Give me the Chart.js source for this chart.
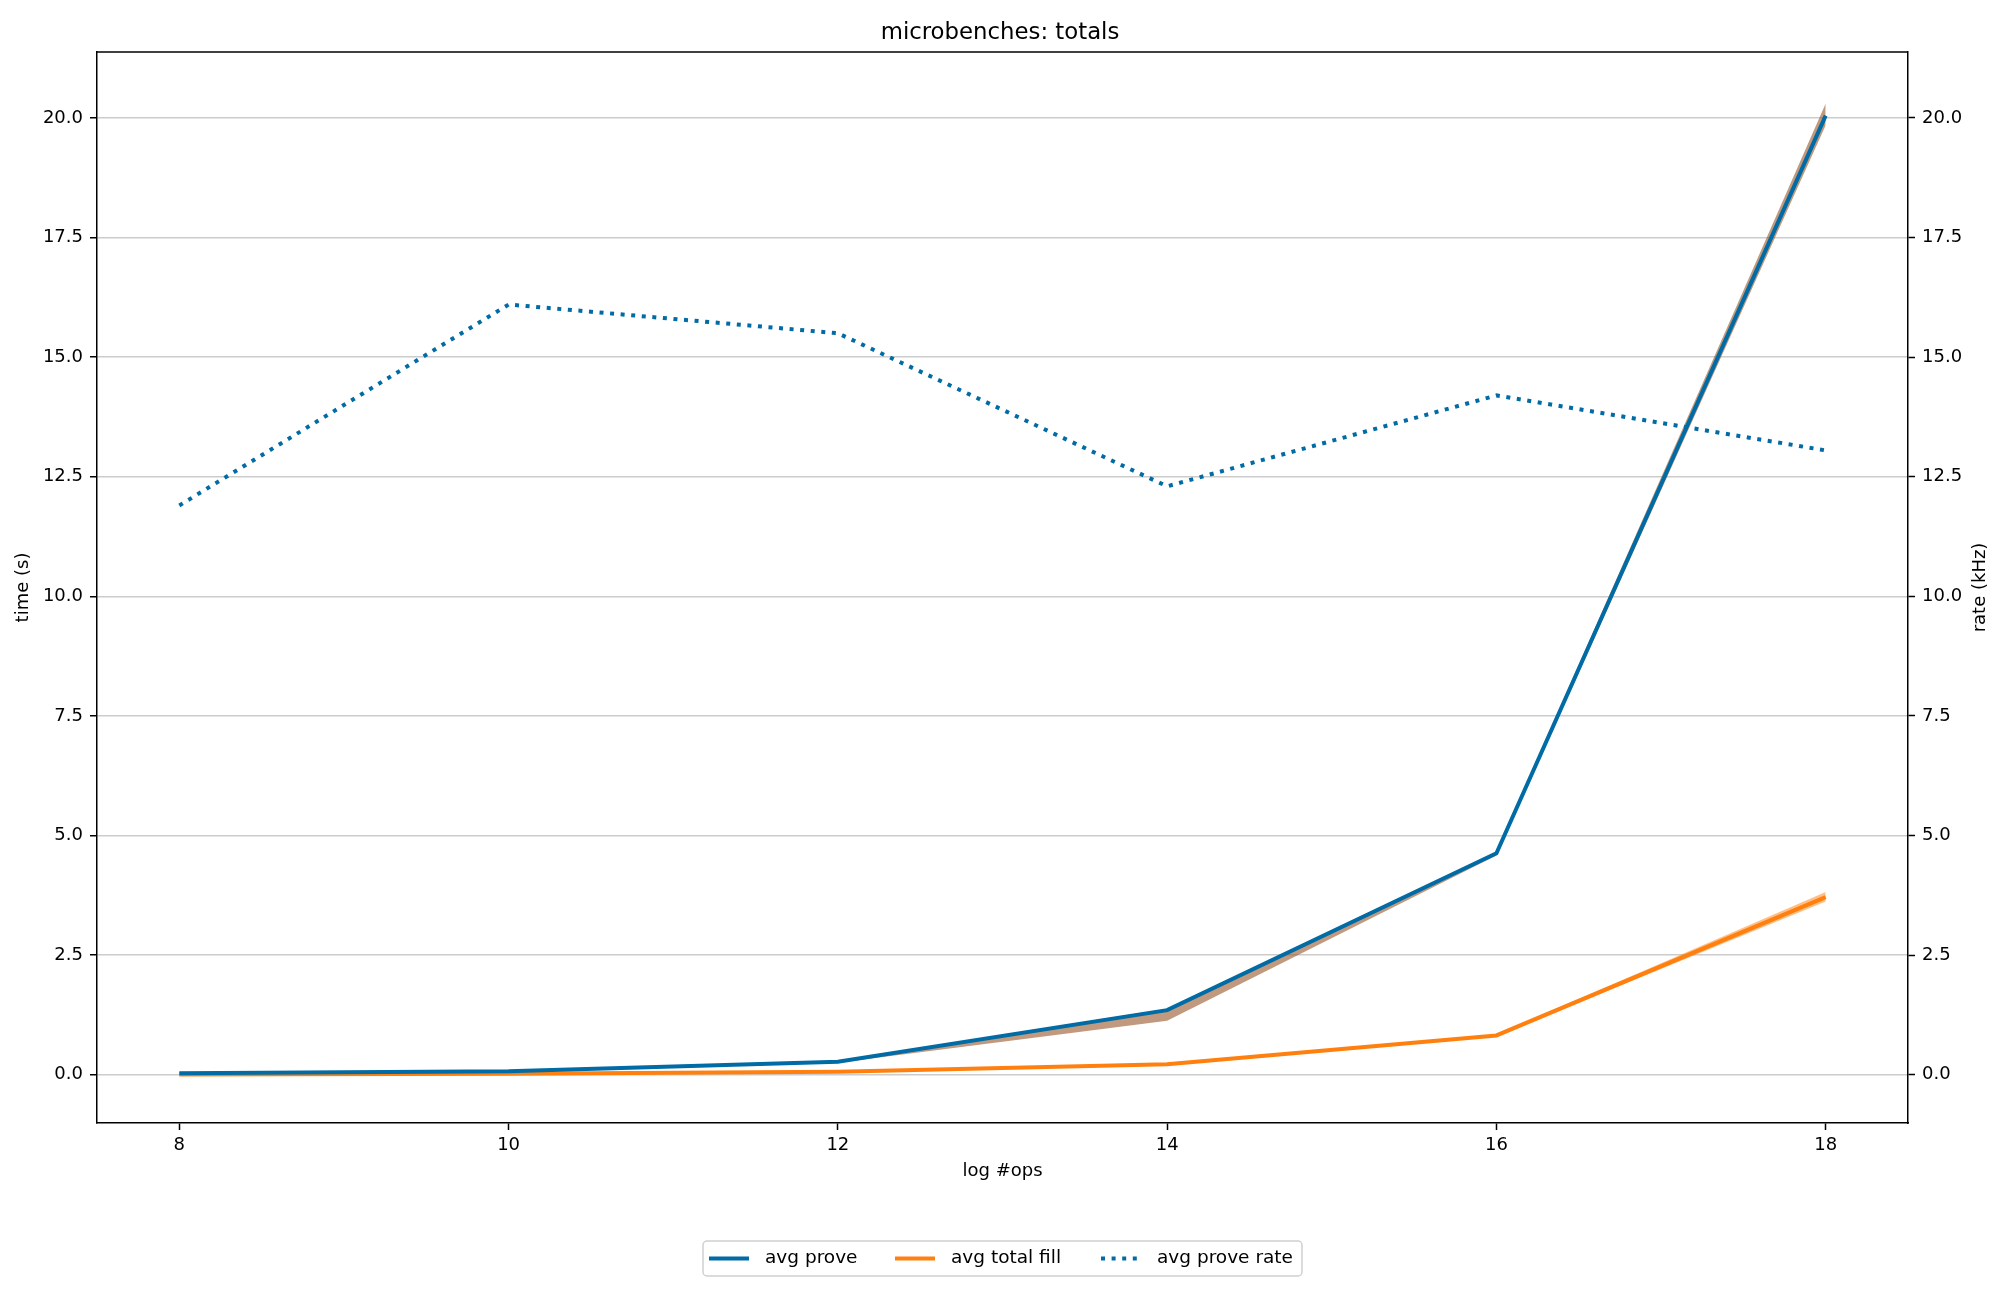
<!DOCTYPE html>
<html>
<head>
<meta charset="utf-8">
<script src="https://cdn.jsdelivr.net/npm/chart.js@4"></script>
<style>
  body { margin: 0; background: #fff; }
  #wrap { width: 2000px; height: 1296px; }
</style>
</head>
<body>
<div id="wrap"><canvas id="myChart" width="2000" height="1296"></canvas></div>
<script>
// data
const logOps = [8, 10, 12, 14, 16, 18];
const proveAvg = [0.03, 0.07, 0.27, 1.35, 4.63, 20.05];
const proveLow = [0.02, 0.06, 0.25, 1.13, 4.58, 19.85];
const proveHigh = [0.04, 0.08, 0.29, 1.38, 4.66, 20.3];
const fillAvg = [0.005, 0.02, 0.06, 0.22, 0.82, 3.71];
const fillLow = [0.0, 0.01, 0.05, 0.2, 0.8, 3.62];
const fillHigh = [0.01, 0.03, 0.07, 0.24, 0.84, 3.82];
const proveRate = [11.9, 16.1, 15.5, 12.3, 14.2, 13.05];
const xTicks = [8, 10, 12, 14, 16, 18];
const yTicks = [0, 2.5, 5, 7.5, 10, 12.5, 15, 17.5, 20];

const BLUE = '#006BA4';
const ORANGE = '#FF800E';

Chart.defaults.font.family = "'DejaVu Sans', sans-serif";
Chart.defaults.font.size = 18;
Chart.defaults.color = '#000';

function pts(ys) {
    return logOps.map((x, i) => ({x: x, y: ys[i]}));
}

// frame on top, right axis title (reads upward like matplotlib) + legend box
const extras = {
    id: 'extras',
    afterDraw(chart) {
        const ctx = chart.ctx;
        const a = chart.chartArea;
        ctx.save();
        ctx.strokeStyle = '#000';
        ctx.lineWidth = 1.5;
        ctx.beginPath();
        ctx.moveTo(a.left, a.top);
        ctx.lineTo(a.right, a.top);
        ctx.stroke();

        ctx.save();
        ctx.translate(1980, (a.top + a.bottom) / 2);
        ctx.rotate(-Math.PI / 2);
        ctx.font = "18px 'DejaVu Sans'";
        ctx.fillStyle = '#000';
        ctx.textAlign = 'center';
        ctx.textBaseline = 'middle';
        ctx.fillText('rate (kHz)', 0, 0);
        ctx.restore();

        // legend
        const items = chart.data.datasets.filter(d => d.inLegend);
        const boxL = 703, boxR = 1302, boxT = 1241, boxB = 1276;
        ctx.fillStyle = 'rgba(255,255,255,0.8)';
        ctx.strokeStyle = '#d0d0d0';
        ctx.lineWidth = 1.5;
        ctx.beginPath();
        ctx.roundRect(boxL, boxT, boxR - boxL, boxB - boxT, 4);
        ctx.fill();
        ctx.stroke();
        const cy = (boxT + boxB) / 2;
        const starts = [709, 895, 1101];
        ctx.font = "18.5px 'DejaVu Sans'";
        ctx.textBaseline = 'middle';
        items.forEach((d, i) => {
            const x0 = starts[i];
            ctx.strokeStyle = d.borderColor;
            ctx.lineWidth = d.borderWidth;
            ctx.setLineDash(d.borderDash || []);
            ctx.beginPath();
            ctx.moveTo(x0, cy);
            ctx.lineTo(x0 + 40, cy);
            ctx.stroke();
            ctx.setLineDash([]);
            ctx.fillStyle = '#000';
            ctx.fillText(d.label, x0 + 56, cy);
        });
        ctx.restore();
    }
};

const config = {
    type: 'line',
    data: {
        datasets: [
            {label: 'prove low', data: pts(proveLow), borderWidth: 0, pointRadius: 0,
             fill: false, order: 10, backgroundColor: 'rgba(150,85,40,0.6)'},
            {label: 'prove high', data: pts(proveHigh), borderWidth: 0, pointRadius: 0,
             fill: '-1', order: 10, backgroundColor: 'rgba(150,85,40,0.6)'},
            {label: 'fill low', data: pts(fillLow), borderWidth: 0, pointRadius: 0,
             fill: false, order: 10, backgroundColor: 'rgba(255,128,14,0.5)'},
            {label: 'fill high', data: pts(fillHigh), borderWidth: 0, pointRadius: 0,
             fill: '-1', order: 10, backgroundColor: 'rgba(255,128,14,0.5)'},
            {label: 'avg prove', inLegend: true, data: pts(proveAvg), borderColor: BLUE,
             borderWidth: 4, pointRadius: 0, order: 1, yAxisID: 'y'},
            {label: 'avg total fill', inLegend: true, data: pts(fillAvg), borderColor: ORANGE,
             borderWidth: 4, pointRadius: 0, order: 2, yAxisID: 'y'},
            {label: 'avg prove rate', inLegend: true, data: pts(proveRate), borderColor: BLUE,
             borderWidth: 4, borderDash: [4, 6.6], borderCapStyle: 'butt', pointRadius: 0,
             order: 0, yAxisID: 'y1'}
        ]
    },
    options: {
        responsive: false,
        animation: false,
        devicePixelRatio: 1,
        layout: {padding: {top: 0, bottom: 103, left: 0, right: 0}},
        plugins: {
            legend: {display: false},
            tooltip: {enabled: false},
            title: {
                display: true,
                text: 'microbenches: totals',
                font: {size: 22.8, weight: 'normal'},
                color: '#000',
                padding: {top: 19, bottom: 5.6}
            }
        },
        scales: {
            x: {
                type: 'linear',
                min: 7.5,
                max: 18.5,
                afterBuildTicks: s => { s.ticks = xTicks.map(v => ({value: v})); },
                afterFit: s => { s.height = 70; },
                ticks: {padding: 5, color: '#000'},
                grid: {drawOnChartArea: false, drawTicks: true, tickLength: 7,
                       tickColor: '#000', tickWidth: 1.5},
                border: {color: '#000', width: 1.5},
                title: {display: true, text: 'log #ops', color: '#000',
                        padding: {top: 0, bottom: 11}}
            },
            y: {
                position: 'left',
                min: -1.01,
                max: 21.38,
                afterBuildTicks: s => { s.ticks = yTicks.map(v => ({value: v})); },
                afterFit: s => { s.width = 97; },
                ticks: {padding: 7, color: '#000', callback: v => v.toFixed(1)},
                grid: {color: '#cccccc', lineWidth: 1.5, drawTicks: true, tickLength: 7,
                       tickColor: '#000', tickWidth: 1.5},
                border: {color: '#000', width: 1.5},
                title: {display: true, text: 'time (s)', color: '#000',
                        padding: {top: 13, bottom: 0}}
            },
            y1: {
                position: 'right',
                min: -1.01,
                max: 21.38,
                afterBuildTicks: s => { s.ticks = yTicks.map(v => ({value: v})); },
                afterFit: s => { s.width = 92; },
                ticks: {padding: 7, color: '#000', callback: v => v.toFixed(1)},
                grid: {drawOnChartArea: false, drawTicks: true, tickLength: 7,
                       tickColor: '#000', tickWidth: 1.5},
                border: {color: '#000', width: 1.5},
                title: {display: false}
            }
        }
    },
    plugins: [extras]
};

const myChart = new Chart(document.getElementById('myChart'), config);
</script>
</body>
</html>
